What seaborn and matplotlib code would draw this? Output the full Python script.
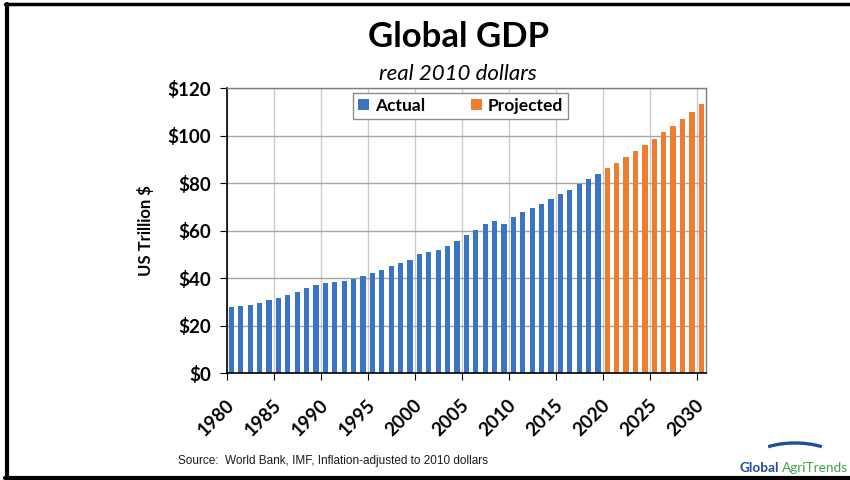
import pandas as pd
import matplotlib.pyplot as plt
import seaborn as sns
from matplotlib.lines import Line2D
from matplotlib.patches import Arc

# data (US$ trillion, real 2010 dollars)
years = list(range(1980, 2031))
actual_values = [28.0, 28.5, 28.8, 29.5, 30.9, 31.8, 33.0, 34.2, 35.8, 37.0,
                 38.0, 38.6, 39.0, 39.9, 40.8, 42.1, 43.5, 45.3, 46.4, 47.7,
                 50.1, 50.9, 52.0, 53.6, 55.8, 58.1, 60.3, 63.0, 64.1, 63.0,
                 65.9, 67.8, 69.5, 71.3, 73.4, 75.4, 77.2, 79.6, 81.8, 84.0]
projected_values = [86.3, 88.5, 90.9, 93.6, 96.1, 98.8, 101.5, 104.1, 107.1, 110.2, 113.3]
series_names = ["Actual", "Projected"]
tick_years = [1980, 1985, 1990, 1995, 2000, 2005, 2010, 2015, 2020, 2025, 2030]
y_ticks = [0, 20, 40, 60, 80, 100, 120]

df = pd.DataFrame({
    "Year": years,
    "GDP": actual_values + projected_values,
    "Series": [series_names[0]] * len(actual_values) + [series_names[1]] * len(projected_values),
})

sns.set_style("white")
plt.rcParams["font.family"] = ["Lato", "DejaVu Sans"]
plt.rcParams["text.color"] = "black"
plt.rcParams["axes.labelcolor"] = "black"
plt.rcParams["xtick.color"] = "black"
plt.rcParams["ytick.color"] = "black"

fig = plt.figure(figsize=(8.5, 4.8), dpi=100)
ax = fig.add_axes([0.2667, 0.2222, 0.5639, 0.594])

sns.barplot(data=df, x="Year", y="GDP", hue="Series", order=years, dodge=False,
            width=0.56, palette={"Actual": "#3b74c2", "Projected": "#ed7d31"},
            saturation=1, linewidth=0, ax=ax)

ax.set_xlim(-0.5, len(years) - 0.5)
ax.set_ylim(0, 120)
ax.set_yticks(y_ticks)
ax.set_yticklabels([f"${v}" for v in y_ticks], fontsize=13.5, fontweight="bold")

# grid/tick marks at category edges, labels at category centres
idx = [years.index(y) for y in tick_years]
ax.set_xticks([i - 0.5 for i in idx])
ax.set_xticklabels([])
ax.set_xticks(idx, minor=True)
ax.set_xticklabels([str(y) for y in tick_years], minor=True, rotation=45,
                   ha="right", va="center", rotation_mode="anchor",
                   fontsize=13.5, fontweight="bold")
ax.tick_params(axis="x", which="major", length=5, color="black", direction="out", bottom=True)
ax.tick_params(axis="x", which="minor", length=0, pad=21)
ax.tick_params(axis="y", length=5, color="black", direction="out", left=True, pad=6)

ax.grid(True, axis="y", color="#a6a6a6", lw=1, linestyle="-")
ax.grid(True, axis="x", which="major", color="#cccccc", lw=1, linestyle="-")
ax.set_axisbelow(True)

for side in ["left", "bottom"]:
    ax.spines[side].set_color("black")
    ax.spines[side].set_linewidth(1.2)
for side in ["top", "right"]:
    ax.spines[side].set_color("#7f7f7f")
    ax.spines[side].set_linewidth(1)

ax.set_xlabel("")
ax.set_ylabel("US Trillion $", fontsize=12, fontweight="bold", labelpad=10)

handles, labels = ax.get_legend_handles_labels()
leg = ax.legend(handles, labels, loc="upper center", bbox_to_anchor=(0.488, 0.985), ncol=2,
                frameon=True, fancybox=False, edgecolor="#8c8c8c", framealpha=1,
                prop={"weight": "bold", "size": 12.5}, handlelength=0.65, handleheight=0.65,
                handletextpad=0.35, columnspacing=2.6, borderpad=0.3, borderaxespad=0)
leg.get_frame().set_linewidth(1)

fig.text(0.539, 1 - 47 / 480, "Global GDP", ha="center", va="baseline", fontsize=25, fontweight="bold")
fig.text(0.539, 1 - 80 / 480, "real 2010 dollars", ha="center", va="baseline", fontsize=16, style="italic")
fig.text(178 / 850, 1 - 464 / 480, "Source:  World Bank, IMF, Inflation-adjusted to 2010 dollars",
         ha="left", va="baseline", fontsize=8.5, family="Liberation Sans", color="#1a1a1a")

# slide frame
fig.add_artist(Line2D([6.5 / 850, 6.5 / 850], [2 / 480, 476 / 480], color="black", lw=3))
fig.add_artist(Line2D([5 / 850, 1], [476 / 480, 476 / 480], color="black", lw=2.5))
fig.add_artist(Line2D([5 / 850, 1], [2 / 480, 2 / 480], color="black", lw=3))

# logo
lax = fig.add_axes([738 / 850, 5 / 480, 112 / 850, 42 / 480])
lax.set_xlim(0, 112)
lax.set_ylim(0, 42)
lax.axis("off")
lax.add_patch(Arc((57, 14), 88, 36, theta1=28, theta2=152, color="#1f4e99", lw=2.4))
lax.text(1, 3, "Global", fontsize=9.8, fontweight="bold", color="#1f4e99", va="baseline")
lax.text(44, 3, "AgriTrends", fontsize=9.8, color="#3aa845", va="baseline")

fig.savefig("out.png", dpi=100)
